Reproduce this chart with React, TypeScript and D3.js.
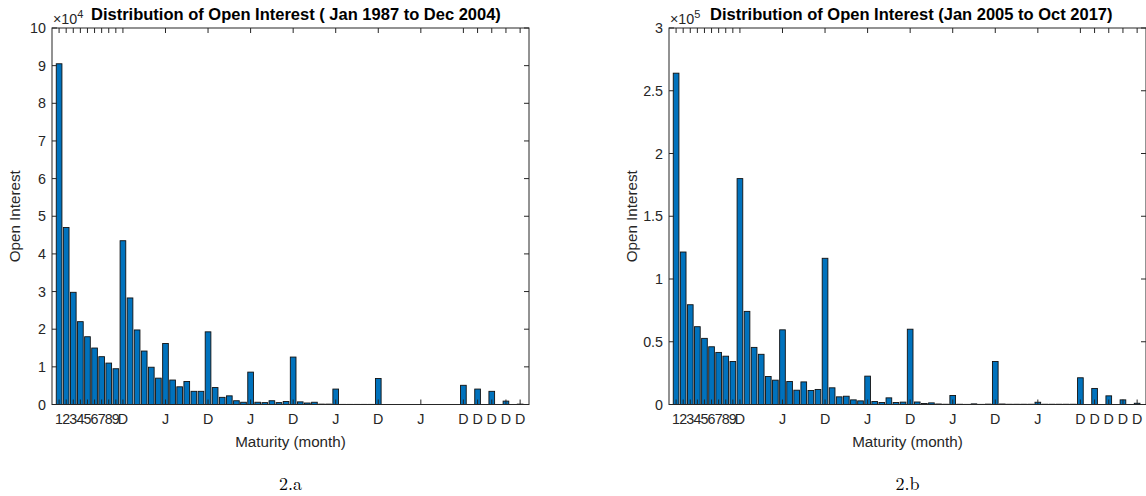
import React from "react";
import { scaleLinear, range } from "d3";

// maturity index 1..66, one bar per month
const maturities = range(1, 67);

// open interest, Jan 1987 - Dec 2004 (x 10^4)
const openInterestA = [
  9.05, 4.7, 2.98, 2.2, 1.8, 1.5, 1.27, 1.1, 0.95, 4.35,
  2.83, 1.98, 1.42, 0.99, 0.7, 1.62, 0.65, 0.47, 0.61, 0.35,
  0.35, 1.93, 0.45, 0.19, 0.23, 0.1, 0.06, 0.86, 0.06, 0.05,
  0.1, 0.05, 0.08, 1.26, 0.07, 0.04, 0.06, 0.01, 0.01, 0.41,
  0.003, 0.003, 0.003, 0.003, 0.003, 0.69, 0, 0, 0, 0,
  0, 0, 0, 0, 0, 0, 0, 0.51, 0, 0.41,
  0, 0.35, 0, 0.09, 0, 0.01,
];

// open interest, Jan 2005 - Oct 2017 (x 10^5)
const openInterestB = [
  2.64, 1.215, 0.795, 0.62, 0.527, 0.46, 0.415, 0.385, 0.343, 1.8,
  0.742, 0.455, 0.4, 0.223, 0.194, 0.595, 0.183, 0.114, 0.18, 0.112,
  0.12, 1.165, 0.133, 0.061, 0.066, 0.037, 0.029, 0.226, 0.024, 0.016,
  0.053, 0.016, 0.019, 0.6, 0.02, 0.008, 0.013, 0.004, 0.002, 0.072,
  0.002, 0.001, 0.005, 0.001, 0.003, 0.343, 0.004, 0.002, 0.002, 0.002,
  0.002, 0.018, 0.002, 0.002, 0.002, 0.002, 0.002, 0.213, 0, 0.128,
  0, 0.069, 0, 0.037, 0, 0.01,
];

const xTickValues = [1, 2, 3, 4, 5, 6, 7, 8, 9, 10, 16, 22, 28, 34, 40, 46, 52, 58, 60, 62, 64, 66];
const xTickLabels = ["1", "2", "3", "4", "5", "6", "7", "8", "9", "D", "J", "D", "J", "D", "J", "D", "J", "D", "D", "D", "D", "D"];

const yTicksA = [0, 1, 2, 3, 4, 5, 6, 7, 8, 9, 10];
const yTickLabelsA = ["0", "1", "2", "3", "4", "5", "6", "7", "8", "9", "10"];
const yTicksB = [0, 0.5, 1, 1.5, 2, 2.5, 3];
const yTickLabelsB = ["0", "0.5", "1", "1.5", "2", "2.5", "3"];

const AXIS = "#262626";
const BAR = "#0072BD";
const FONT = "'Liberation Sans', Arial, Helvetica, sans-serif";

function Panel({
  left,
  values,
  yMax,
  yTicks,
  yTickLabels,
  exponent,
  title,
  titleX,
  caption,
}: {
  left: number;
  values: number[];
  yMax: number;
  yTicks: number[];
  yTickLabels: string[];
  exponent: string;
  title: string;
  titleX: number;
  caption: string;
}) {
  const top = 28;
  const bottom = 404.5;
  const width = 477;
  const x = scaleLinear().domain([0, 67.25]).range([left, left + width]);
  const y = scaleLinear().domain([0, yMax]).range([bottom, top]);
  const barW = (x(1) - x(0)) * 0.8;
  const tl = 5; // tick length
  const cx = left + width / 2;

  return (
    <g fontFamily={FONT}>
      {/* bars */}
      {values.map((v, i) => (
        <rect
          key={i}
          x={x(maturities[i]) - barW / 2}
          y={y(v)}
          width={barW}
          height={Math.max(bottom - y(v), 0)}
          fill={BAR}
          stroke="#111"
          strokeWidth={0.9}
        />
      ))}

      {/* box */}
      <rect
        x={left}
        y={top}
        width={width}
        height={bottom - top}
        fill="none"
        stroke={AXIS}
        strokeWidth={1}
      />

      {/* x ticks (bottom and top, inward) */}
      {xTickValues.map((t, i) => (
        <g key={i}>
          <line x1={x(t)} x2={x(t)} y1={bottom} y2={bottom - tl} stroke={AXIS} />
          <line x1={x(t)} x2={x(t)} y1={top} y2={top + tl} stroke={AXIS} />
          <text
            x={x(t)}
            y={bottom + 19}
            textAnchor="middle"
            fontSize={14.3}
            fill={AXIS}
          >
            {xTickLabels[i]}
          </text>
        </g>
      ))}

      {/* y ticks (left and right, inward) */}
      {yTicks.map((t, i) => (
        <g key={i}>
          <line x1={left} x2={left + tl} y1={y(t)} y2={y(t)} stroke={AXIS} />
          <line x1={left + width} x2={left + width - tl} y1={y(t)} y2={y(t)} stroke={AXIS} />
          <text
            x={left - 6}
            y={y(t)}
            dy="0.35em"
            textAnchor="end"
            fontSize={14.3}
            fill={AXIS}
          >
            {yTickLabels[i]}
          </text>
        </g>
      ))}

      {/* exponent */}
      <text x={left + 1} y={top - 4} fontSize={14.3} fill={AXIS}>
        ×10
        <tspan dy={-6} fontSize={11}>
          {exponent}
        </tspan>
      </text>

      {/* title */}
      <text x={titleX} y={top - 8} fontSize={16.5} fontWeight="bold" fill="#000">
        {title}
      </text>

      {/* axis labels */}
      <text
        x={cx}
        y={bottom + 42}
        textAnchor="middle"
        fontSize={15.2}
        fill={AXIS}
      >
        Maturity (month)
      </text>
      <text
        transform={`translate(${left - 32},${(top + bottom) / 2}) rotate(-90)`}
        textAnchor="middle"
        fontSize={15.2}
        fill={AXIS}
      >
        Open Interest
      </text>

      {/* caption */}
      <text
        x={cx}
        y={490}
        textAnchor="middle"
        fontSize={18}
        fontFamily="'Latin Modern Roman', 'DejaVu Serif', 'Liberation Serif', serif"
        fill="#000"
      >
        {caption}
      </text>
    </g>
  );
}

export default function App() {
  return (
    <svg
      width={1146}
      height={496}
      style={{ position: "absolute", left: 0, top: 0, background: "#fff" }}
    >
      <Panel
        left={52}
        values={openInterestA}
        yMax={10}
        yTicks={yTicksA}
        yTickLabels={yTickLabelsA}
        exponent="4"
        title="Distribution of Open Interest ( Jan 1987 to Dec 2004)"
        titleX={91}
        caption="2.a"
      />
      <Panel
        left={669}
        values={openInterestB}
        yMax={3}
        yTicks={yTicksB}
        yTickLabels={yTickLabelsB}
        exponent="5"
        title="Distribution of Open Interest (Jan 2005 to Oct 2017)"
        titleX={710}
        caption="2.b"
      />
    </svg>
  );
}
